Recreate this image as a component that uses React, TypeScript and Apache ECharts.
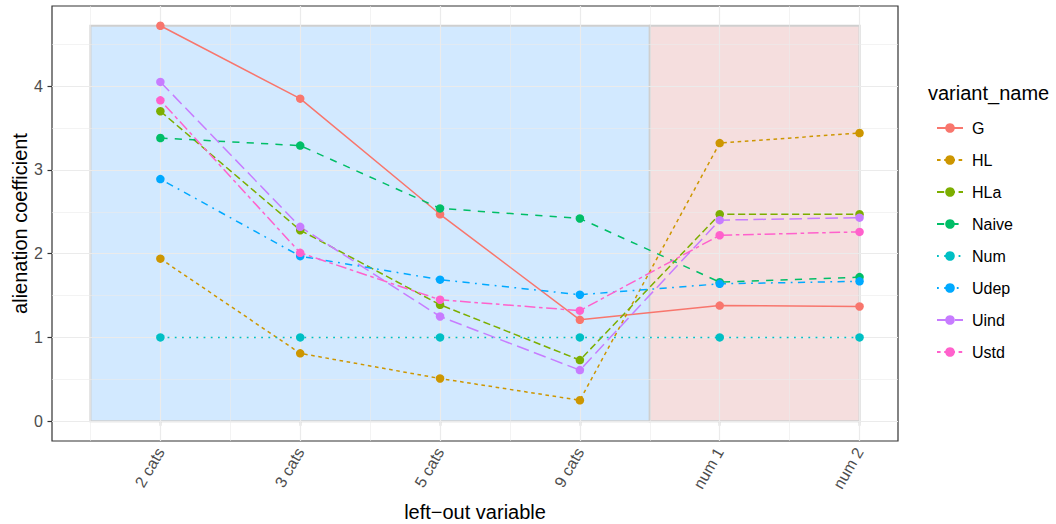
import React, { useEffect, useRef } from "react";
import * as echarts from "echarts";

const categories = ["2 cats", "3 cats", "5 cats", "9 cats", "num 1", "num 2"];
const seriesNames = ["G", "HL", "HLa", "Naive", "Num", "Udep", "Uind", "Ustd"];
const G = [4.72, 3.85, 2.47, 1.21, 1.38, 1.37];
const HL = [1.94, 0.81, 0.51, 0.25, 3.32, 3.44];
const HLa = [3.7, 2.28, 1.39, 0.73, 2.47, 2.47];
const Naive = [3.38, 3.29, 2.54, 2.42, 1.66, 1.72];
const Num = [1, 1, 1, 1, 1, 1];
const Udep = [2.89, 1.97, 1.69, 1.51, 1.64, 1.67];
const Uind = [4.05, 2.32, 1.25, 0.61, 2.4, 2.43];
const Ustd = [3.83, 2.01, 1.45, 1.32, 2.22, 2.26];
const yTicks = [0, 1, 2, 3, 4];

const FONT = "'Liberation Sans', Arial, Helvetica, sans-serif";
const TITLE_SIZE = 20;
const LABEL_SIZE = 16;
const colors = ["#F8766D", "#CD9600", "#7CAE00", "#00BE67", "#00BFC4", "#00A9FF", "#C77CFF", "#FF61CC"];
const u = 1.8;
const dashes: any[] = [
  "solid",
  [2 * u, 2 * u],
  [4 * u, 2 * u],
  [4 * u, 4 * u],
  [1 * u, 3 * u],
  [1 * u, 3 * u, 4 * u, 3 * u],
  [7 * u, 3 * u],
  [2 * u, 2 * u, 6 * u, 2 * u],
];

export default function App() {
  const ref = useRef<HTMLDivElement>(null);
  useEffect(() => {
    document.body.style.margin = "0";
    const chart = echarts.init(ref.current!, null, { renderer: "svg" });
    const allValues = [G, HL, HLa, Naive, Num, Udep, Uind, Ustd];
    const maxV = Math.max(...allValues.flat());
    const nCat = categories.length;
    const xLo = 0.5, xHi = nCat;
    const xPad = (xHi - xLo) * 0.05;
    const yPad = maxV * 0.05;
    const xMin = xLo - xPad, xMax = xHi + xPad;
    const yMin = -yPad, yMax = maxV + yPad;

    const gridLines: any[] = [];
    for (let i = 0; i < nCat; i++) {
      gridLines.push({ xAxis: i + 0.5, lineStyle: { color: "#ebebeb", width: 0.6, type: "solid" } });
      gridLines.push({ xAxis: i + 1, lineStyle: { color: "#ebebeb", width: 1.2, type: "solid" } });
    }
    yTicks.forEach((t) => {
      gridLines.push({ yAxis: t, lineStyle: { color: "#ebebeb", width: 1.2, type: "solid" } });
      if (t + 0.5 < yMax) gridLines.push({ yAxis: t + 0.5, lineStyle: { color: "#ebebeb", width: 0.6, type: "solid" } });
    });

    const dataSeries = seriesNames.map((name, k) => ({
      name,
      type: "line",
      z: 5,
      data: allValues[k].map((v, i) => [i + 1, v]),
      symbol: "circle",
      symbolSize: 8.5,
      itemStyle: { color: colors[k] },
      lineStyle: { color: colors[k], width: 1.5, type: dashes[k], cap: "butt" },
      emphasis: { disabled: true },
    }));

    chart.setOption({
      animation: false,
      textStyle: { fontFamily: FONT },
      grid: {
        left: 52, top: 6, width: 846, height: 435,
        show: true, borderColor: "#333333", borderWidth: 1.2, backgroundColor: "#ffffff",
      },
      xAxis: {
        type: "value",
        min: xMin,
        max: xMax,
        splitLine: { show: false },
        axisLine: { show: false },
        axisTick: {
          show: true, customValues: categories.map((_, i) => i + 1), length: 4.5,
          lineStyle: { color: "#333333", width: 1.2 },
        },
        axisLabel: {
          customValues: categories.map((_, i) => i + 1),
          formatter: (v: number) => categories[Math.round(v) - 1] ?? "",
          rotate: 60,
          color: "#4d4d4d",
          fontSize: LABEL_SIZE,
          fontFamily: FONT,
          margin: 8,
        },
      },
      yAxis: {
        type: "value",
        min: yMin,
        max: yMax,
        splitLine: { show: false },
        axisLine: { show: false },
        axisTick: {
          show: true, customValues: yTicks, length: 4.5,
          lineStyle: { color: "#333333", width: 1.2 },
        },
        axisLabel: {
          customValues: yTicks,
          formatter: (v: number) => String(v),
          color: "#4d4d4d",
          fontSize: LABEL_SIZE,
          fontFamily: FONT,
          margin: 9,
        },
      },
      legend: {
        data: seriesNames,
        orient: "vertical",
        left: 931,
        top: 115,
        itemWidth: 26,
        itemHeight: 12,
        itemGap: 16,
        textStyle: { fontSize: LABEL_SIZE, color: "#000", fontFamily: FONT, padding: [0, 0, 0, 4], lineHeight: 12 },
        selectedMode: false,
      },
      graphic: [
        {
          type: "text", x: 475, y: 512,
          style: { text: "left\u2212out variable", fill: "#000", font: `${TITLE_SIZE}px ${FONT}`, align: "center", verticalAlign: "middle" },
        },
        {
          type: "text", x: 20, y: 223.5, rotation: Math.PI / 2,
          style: { text: "alienation coefficient", fill: "#000", font: `${TITLE_SIZE}px ${FONT}`, align: "center", verticalAlign: "middle" },
        },
        {
          type: "text", x: 928, y: 93,
          style: { text: "variant_name", fill: "#000", font: `${TITLE_SIZE}px ${FONT}`, align: "left", verticalAlign: "middle" },
        },
      ],
      series: [
        {
          name: "_grid",
          type: "line",
          data: [],
          z: 1,
          silent: true,
          markLine: { silent: true, symbol: ["none", "none"], label: { show: false }, data: gridLines, animation: false },
        },
        {
          name: "_rects",
          type: "line",
          data: [],
          z: 2,
          silent: true,
          markArea: {
            silent: true,
            label: { show: false },
            data: [
              [
                { coord: [xLo, 0], itemStyle: { color: "rgba(30,144,255,0.2)", borderColor: "#cfcfcf", borderWidth: 2 } },
                { coord: [nCat - 1.5, maxV] },
              ],
              [
                { coord: [nCat - 1.5, 0], itemStyle: { color: "rgba(205,92,92,0.2)", borderColor: "#cfcfcf", borderWidth: 2 } },
                { coord: [xHi, maxV] },
              ],
            ],
          },
        },
        ...dataSeries,
      ],
    });
    return () => chart.dispose();
  }, []);
  return <div ref={ref} style={{ width: 1056, height: 524 }} />;
}
